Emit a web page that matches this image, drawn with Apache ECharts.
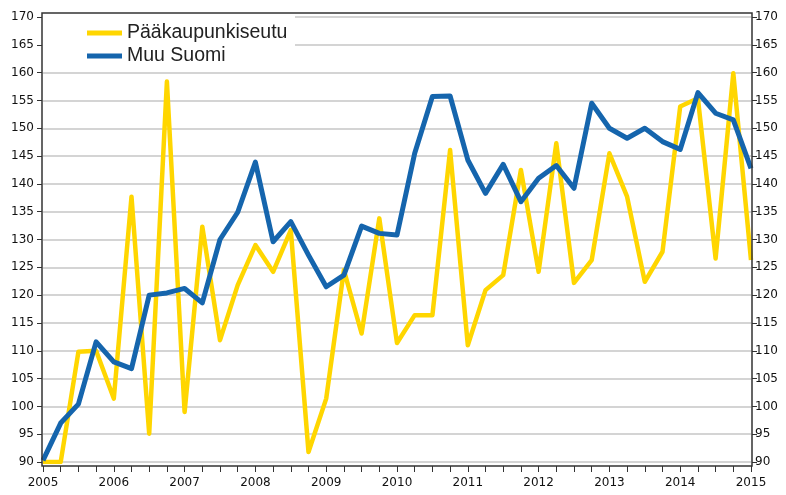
<!DOCTYPE html>
<html>
<head>
<meta charset="utf-8">
<script src="https://cdn.jsdelivr.net/npm/echarts@6/dist/echarts.min.js"></script>
<style>
  html, body { margin: 0; padding: 0; background: #fff; }
  #chart { width: 786px; height: 495px; }
</style>
</head>
<body>
<div id="chart"></div>
<script>
// vuodet ja neljännekset
const years = [2005, 2006, 2007, 2008, 2009, 2010, 2011, 2012, 2013, 2014, 2015];
const quarterLabels = [];
years.forEach((y) => {
  for (let q = 1; q <= 4; q++) {
    if (y === 2015 && q > 1) break;
    quarterLabels.push(y + 'Q' + q);
  }
});

const seriesNames = ['Pääkaupunkiseutu', 'Muu Suomi'];

const paakaupunkiseutu = [
  90.0, 90.0, 109.8, 110.0, 101.4, 137.7, 95.1, 158.4, 99.0, 132.3,
  111.9, 121.8, 129.0, 124.2, 131.7, 91.8, 101.4, 124.5, 113.1, 133.8,
  111.4, 116.4, 116.4, 146.1, 111.0, 120.9, 123.6, 142.5, 124.2, 147.3,
  122.2, 126.3, 145.5, 137.7, 122.4, 127.8, 153.9, 155.4, 126.6, 159.9,
  126.3
];

const muuSuomi = [
  90.3, 97.0, 100.4, 111.6, 108.0, 106.8, 120.0, 120.4, 121.2, 118.6,
  130.0, 134.9, 143.9, 129.6, 133.2, 127.2, 121.5, 123.6, 132.4, 131.1,
  130.8, 145.5, 155.7, 155.8, 144.3, 138.3, 143.5, 136.8, 141.0, 143.3,
  139.2, 154.5, 150.0, 148.2, 150.0, 147.6, 146.2, 156.4, 152.7, 151.5,
  142.8
];

const yMin = 90, yMax = 170, yStep = 5;
const labelFont = 'DejaVu Sans, Verdana, sans-serif';

const chart = echarts.init(document.getElementById('chart'));

const yAxisBase = {
  type: 'value',
  min: yMin,
  max: yMax,
  interval: yStep,
  offset: 1,
  axisLine: { show: false },
  axisTick: { show: true, length: 5, lineStyle: { color: '#333', width: 1 } }
};

const option = {
  animation: false,
  backgroundColor: '#ffffff',
  color: ['#ffd600', '#1565ad'],
  grid: { left: 43, right: 35, top: 17, bottom: 33 },
  legend: {
    orient: 'vertical',
    left: 82,
    top: 18,
    icon: 'rect',
    itemWidth: 35,
    itemHeight: 5,
    itemGap: 3,
    data: seriesNames,
    textStyle: {
      fontSize: 19.5,
      lineHeight: 20,
      color: '#222',
      fontFamily: 'Liberation Sans, Arial, sans-serif'
    }
  },
  xAxis: {
    type: 'category',
    data: quarterLabels,
    boundaryGap: false,
    offset: 4,
    axisLine: { show: false },
    axisTick: { show: true, interval: 0, length: 6, lineStyle: { color: '#333', width: 1 } },
    axisLabel: {
      interval: 3,
      color: '#111',
      fontSize: 12,
      fontFamily: labelFont,
      margin: 11,
      formatter: (v) => v.slice(0, 4)
    },
    splitLine: { show: false }
  },
  yAxis: [
    Object.assign({}, yAxisBase, {
      position: 'left',
      axisLabel: { color: '#111', fontSize: 12, fontFamily: labelFont, margin: 8 },
      splitLine: { show: true, lineStyle: { color: '#c6c6c6', width: 1.5 } }
    }),
    Object.assign({}, yAxisBase, {
      position: 'right',
      axisLabel: { color: '#111', fontSize: 12, fontFamily: labelFont, margin: 3 },
      splitLine: { show: false }
    })
  ],
  graphic: [
    // legendan valkoinen tausta
    {
      type: 'rect',
      z: 1,
      shape: { x: 43, y: 14, width: 252, height: 51 },
      style: { fill: '#ffffff' }
    },
    // kehys
    {
      type: 'rect',
      z: 3,
      shape: { x: 42, y: 13, width: 710, height: 453 },
      style: { fill: 'none', stroke: '#333', lineWidth: 1.5 }
    }
  ],
  series: [
    {
      name: seriesNames[0],
      type: 'line',
      data: paakaupunkiseutu,
      symbol: 'none',
      lineStyle: { width: 4.5, join: 'round' },
      z: 2
    },
    {
      name: seriesNames[1],
      type: 'line',
      data: muuSuomi,
      symbol: 'none',
      lineStyle: { width: 5, join: 'round' },
      z: 2
    }
  ]
};

chart.setOption(option);
</script>
</body>
</html>
